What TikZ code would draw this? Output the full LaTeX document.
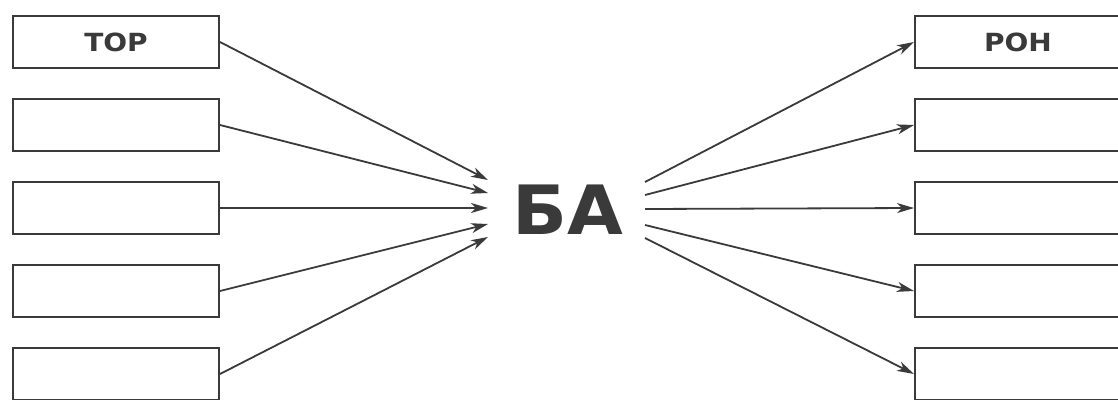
\documentclass[tikz,border=0pt]{standalone}
\usepackage{fontspec}
\setmainfont{DejaVu Sans}
\usetikzlibrary{arrows.meta}
\definecolor{ink}{HTML}{3A3A3A}
\begin{document}
\begin{tikzpicture}[x=1pt,y=-1pt,
  box/.style={draw=ink, line width=2pt, minimum width=206pt, minimum height=52pt,
    inner sep=0pt, text=ink, font=\bfseries\fontsize{25}{25}\selectfont},
  big/.style={inner sep=0pt, text=ink, font=\bfseries\fontsize{68}{68}\selectfont},
  conn/.style={draw=ink, line width=1.8pt, -{Stealth[length=17pt,width=10pt,inset=5pt]}}]
\useasboundingbox (0,0) rectangle (1118,399);
\fill[white] (0,0) rectangle (1118,399);
% left boxes
\node[box] (l1) at (116,42) {\scalebox{1.12}[1]{ТОР}};
\node[box] (l2) at (116,125) {};
\node[box] (l3) at (116,208) {};
\node[box] (l4) at (116,291) {};
\node[box] (l5) at (116,374) {};
% right boxes
\node[box] (r1) at (1018,42) {\scalebox{1.12}[1]{РОН}};
\node[box] (r2) at (1018,125) {};
\node[box] (r3) at (1018,208) {};
\node[box] (r4) at (1018,291) {};
\node[box] (r5) at (1018,374) {};
% centre
\node[big] (c) at (568,210) {\scalebox{1.06}[1]{БА}};
% arrow end points near the centre
\coordinate (ai1) at (488,180);
\coordinate (ai2) at (488,193);
\coordinate (ai3) at (488,208);
\coordinate (ai4) at (488,224);
\coordinate (ai5) at (488,237);
\coordinate (ao1) at (645,182);
\coordinate (ao2) at (645,195);
\coordinate (ao3) at (645,209);
\coordinate (ao4) at (645,225);
\coordinate (ao5) at (645,238);
\foreach \i in {1,...,5} {
  \draw[conn] (l\i.east) -- (ai\i);
  \draw[conn] (ao\i) -- (r\i.west);
}
\end{tikzpicture}
\end{document}
